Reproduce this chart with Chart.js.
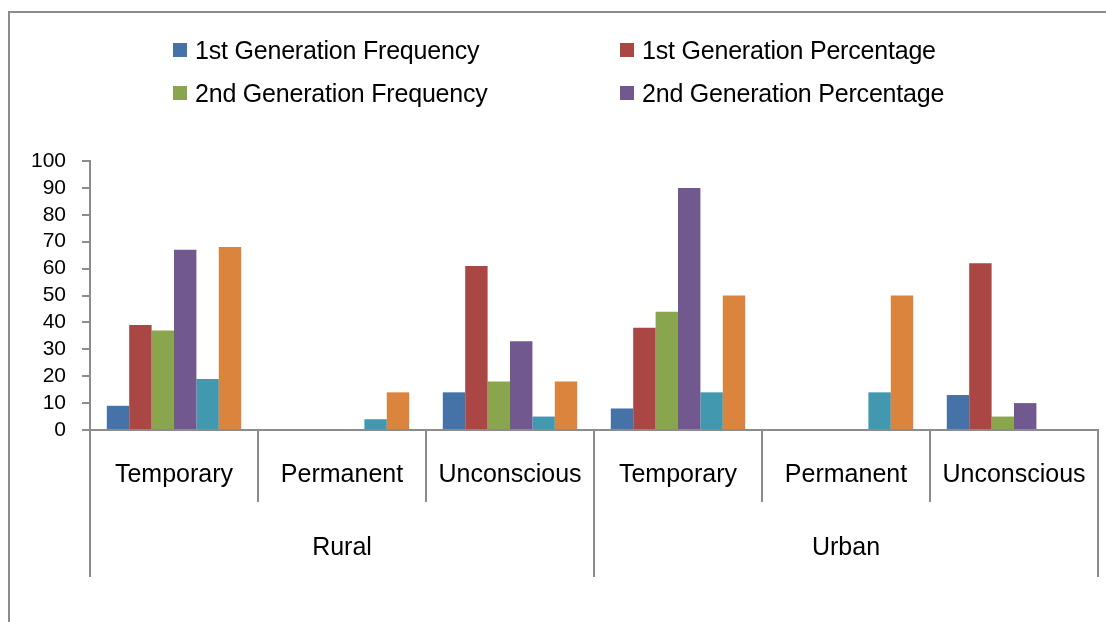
<!DOCTYPE html>
<html>
<head>
<meta charset="utf-8">
<script src="https://cdn.jsdelivr.net/npm/chart.js@4"></script>
<style>
  html, body { margin: 0; padding: 0; background: #fff; }
  #wrap { position: relative; width: 1106px; height: 622px; overflow: hidden; }
  #frame { position: absolute; left: 8px; top: 11px; width: 1200px; height: 700px; border: 2px solid #8c8c8c; box-sizing: border-box; }
  #legend { position: absolute; left: 173px; top: 36px; display: grid; grid-template-columns: 447px auto; row-gap: 15px;
    font-family: 'Liberation Sans', sans-serif; font-size: 25px; color: #000; }
  #legend div { display: flex; align-items: center; height: 28px; white-space: nowrap; letter-spacing: -0.2px; }
  #legend span.box { display: inline-block; width: 14px; height: 14px; margin-right: 8px; }
  canvas { position: absolute; left: 0; top: 0; }
</style>
</head>
<body>
<div id="wrap">
  <div id="frame"></div>
  <canvas id="chart" width="1106" height="622"></canvas>
  <div id="legend"></div>
</div>
<script>
const categories = ['Temporary', 'Permanent', 'Unconscious', 'Temporary', 'Permanent', 'Unconscious'];
const groups = ['Rural', 'Urban'];
const firstGenFreq = [9, 0, 14, 8, 0, 13];
const firstGenPct = [39, 0, 61, 38, 0, 62];
const secondGenFreq = [37, 0, 18, 44, 0, 5];
const secondGenPct = [67, 0, 33, 90, 0, 10];
const series5 = [19, 4, 5, 14, 14, 0];
const series6 = [68, 14, 18, 50, 50, 0];
const yTicks = [0, 10, 20, 30, 40, 50, 60, 70, 80, 90, 100];

const font = "'Liberation Sans', sans-serif";
const axisColor = '#8c8c8c';

const datasets = [
  { label: '1st Generation Frequency', data: firstGenFreq, backgroundColor: '#4572A7' },
  { label: '1st Generation Percentage', data: firstGenPct, backgroundColor: '#AA4643' },
  { label: '2nd Generation Frequency', data: secondGenFreq, backgroundColor: '#89A54E' },
  { label: '2nd Generation Percentage', data: secondGenPct, backgroundColor: '#71588F' },
  { label: 'Series5', data: series5, backgroundColor: '#4198AF' },
  { label: 'Series6', data: series6, backgroundColor: '#DB843D' }
];

// legend only lists the first four series, two per row
const legendEl = document.getElementById('legend');
[0, 1, 2, 3].forEach(i => {
  const item = document.createElement('div');
  item.innerHTML = '<span class="box" style="background:' + datasets[i].backgroundColor + '"></span>' + datasets[i].label;
  legendEl.appendChild(item);
});

// two-level category axis under the plot
const groupAxis = {
  id: 'groupAxis',
  afterDraw(chart) {
    const x = chart.scales.x;
    const ctx = chart.ctx;
    const base = chart.chartArea.bottom;
    const step = x.getPixelForValue(1) - x.getPixelForValue(0);
    const perGroup = categories.length / groups.length;
    ctx.save();
    ctx.strokeStyle = axisColor;
    ctx.lineWidth = 2;
    for (let i = 0; i <= categories.length; i++) {
      const px = Math.round(x.getPixelForValue(0) - step / 2 + i * step);
      const isGroupEdge = i % perGroup === 0;
      ctx.beginPath();
      ctx.moveTo(px, base);
      ctx.lineTo(px, isGroupEdge ? base + 147 : base + 72);
      ctx.stroke();
    }
    ctx.fillStyle = '#000';
    ctx.textAlign = 'center';
    ctx.textBaseline = 'middle';
    ctx.font = '25px ' + font;
    categories.forEach((c, i) => {
      ctx.fillText(c, x.getPixelForValue(i), base + 45);
    });
    groups.forEach((g, gi) => {
      const left = x.getPixelForValue(gi * perGroup) - step / 2;
      const right = x.getPixelForValue(gi * perGroup + perGroup - 1) + step / 2;
      ctx.fillText(g, (left + right) / 2, base + 118);
    });
    ctx.restore();
  }
};

new Chart(document.getElementById('chart'), {
  type: 'bar',
  data: { labels: categories, datasets: datasets },
  plugins: [groupAxis],
  options: {
    responsive: false,
    animation: false,
    layout: { padding: { top: 161, right: 8, left: 0, bottom: 0 } },
    datasets: { bar: { categoryPercentage: 0.8, barPercentage: 1.0, borderWidth: 0 } },
    plugins: { legend: { display: false }, tooltip: { enabled: false } },
    scales: {
      x: {
        grid: { display: false },
        border: { display: true, color: axisColor, width: 2 },
        ticks: { display: false },
        afterFit(scale) { scale.height = 192; }
      },
      y: {
        min: 0,
        max: 100,
        afterBuildTicks(scale) { scale.ticks = yTicks.map(v => ({ value: v })); },
        grid: { drawOnChartArea: false, drawTicks: true, tickLength: 8, color: axisColor, lineWidth: 2 },
        border: { display: true, color: axisColor, width: 2 },
        ticks: { color: '#000', padding: 16, autoSkip: false, font: { family: font, size: 21 } },
        afterFit(scale) { scale.width = 90; }
      }
    }
  }
});
</script>
</body>
</html>
